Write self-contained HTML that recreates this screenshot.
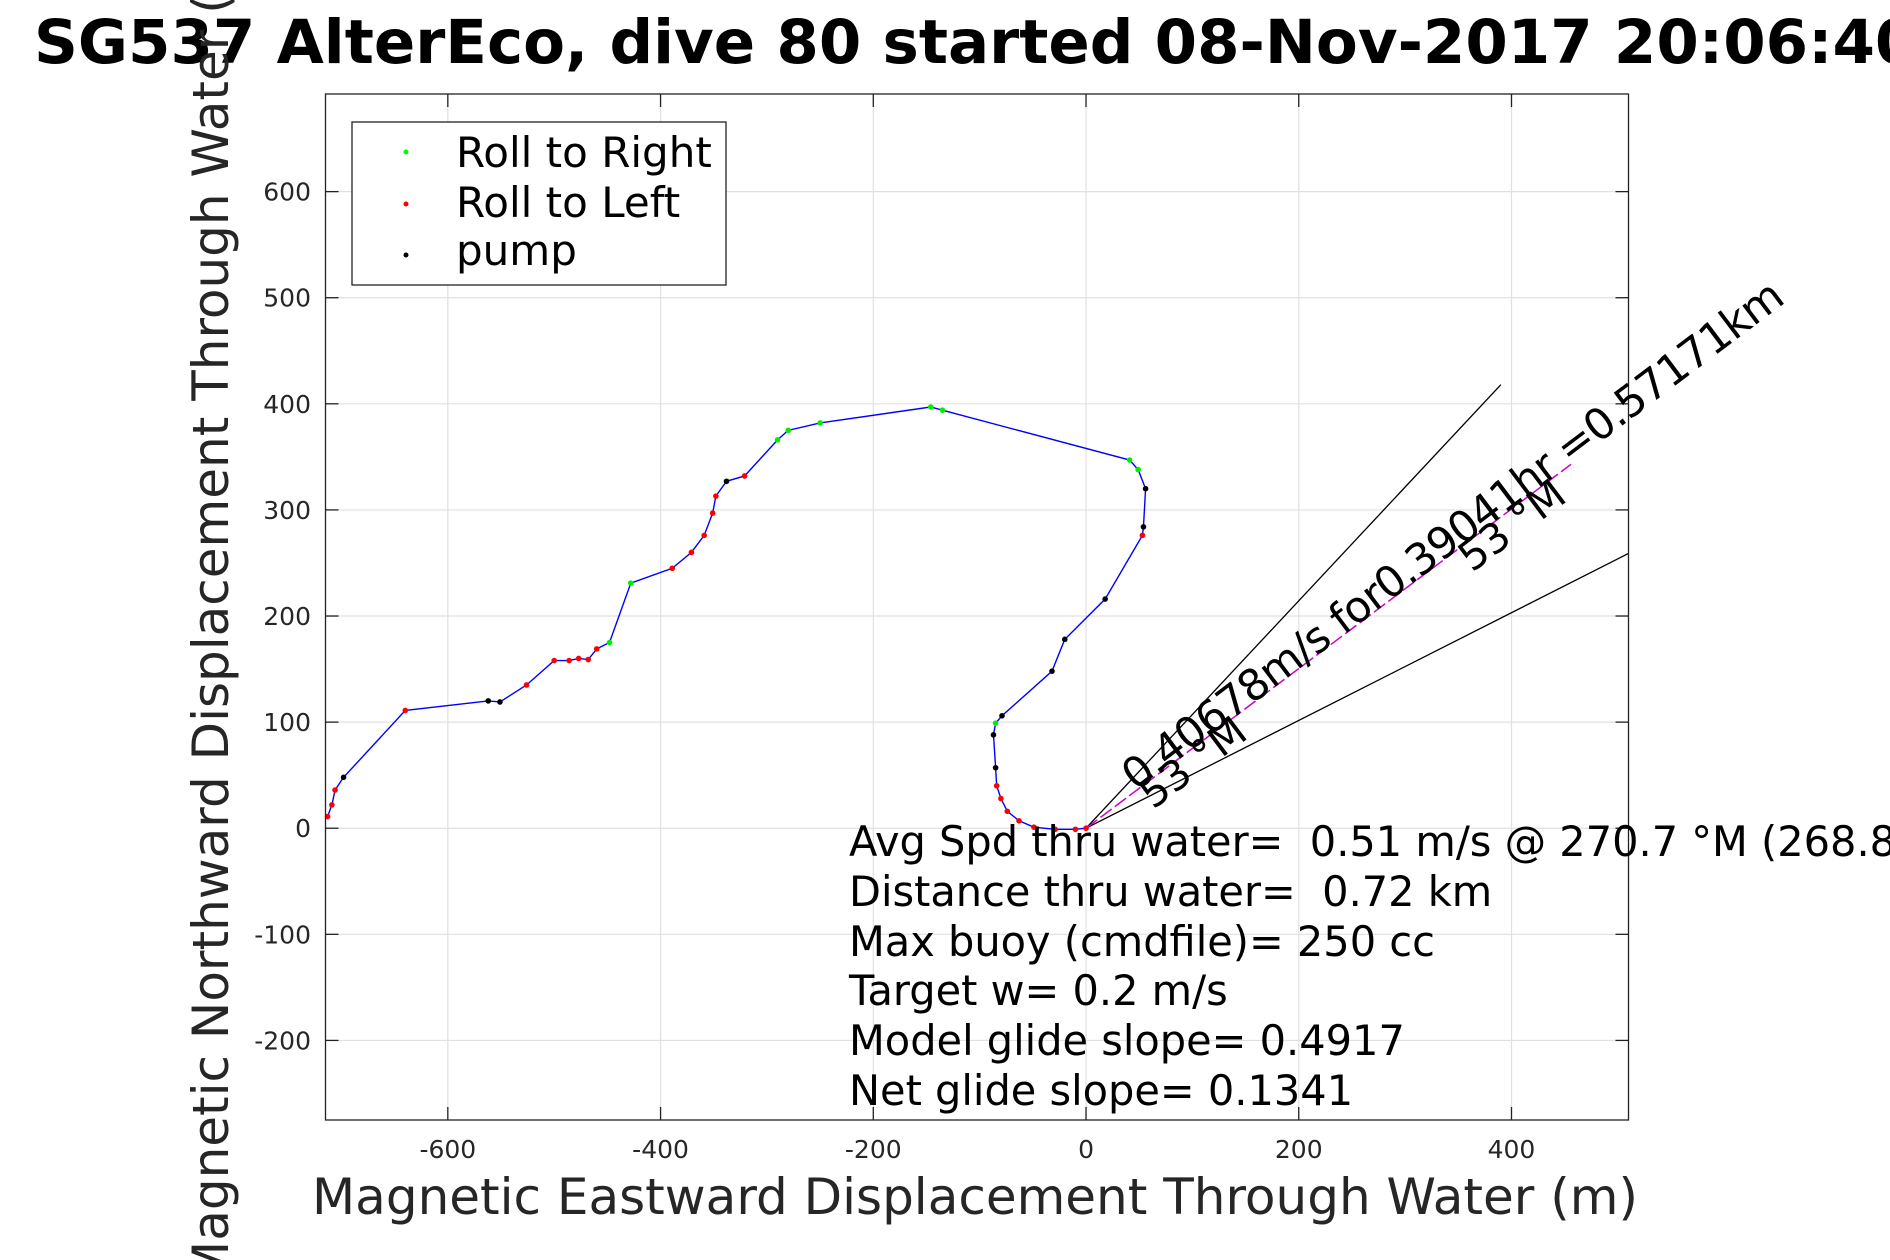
<!DOCTYPE html>
<html><head><meta charset="utf-8"><style>
body{margin:0;background:#fff}
svg{display:block;font-family:"DejaVu Sans","Liberation Sans",sans-serif}
text{white-space:pre}
</style></head><body>
<svg id="chart" width="1890" height="1260" viewBox="0 0 1890 1260">
<text x="34" y="63" font-size="61" font-weight="bold">SG537 AlterEco, dive 80 started 08-Nov-2017 20:06:40</text>
<g id="grid"></g>
<g id="axes"></g>
<g id="marks"></g>
<rect x="325.5" y="94" width="1303" height="1026" fill="none" stroke="#222" stroke-width="1.3"/>
<text x="975" y="1214" font-size="50" fill="#262626" text-anchor="middle">Magnetic Eastward Displacement Through Water (m)</text>
<text transform="translate(228,605) rotate(-90)" font-size="50" fill="#262626" text-anchor="middle">Magnetic Northward Displacement Through Water (m)</text>
<g>
<rect x="352" y="122" width="374" height="163" fill="#fff" stroke="#222" stroke-width="1.3"/>
<circle cx="406" cy="152" r="2.5" fill="#00ff00"/>
<text x="456" y="167" font-size="42">Roll to Right</text>
<circle cx="406" cy="204" r="2.5" fill="#ff0000"/>
<text x="456" y="217" font-size="42">Roll to Left</text>
<circle cx="406" cy="255" r="2.5" fill="#000"/>
<text x="456" y="265" font-size="42">pump</text>
</g>
<g font-size="41.5">
<text x="849" y="856">Avg Spd thru water=  0.51 m/s @ 270.7 °M (268.8 °T)</text>
<text x="849" y="906">Distance thru water=  0.72 km</text>
<text x="849" y="956">Max buoy (cmdfile)= 250 cc</text>
<text x="849" y="1005">Target w= 0.2 m/s</text>
<text x="849" y="1055">Model glide slope= 0.4917</text>
<text x="849" y="1105">Net glide slope= 0.1341</text>
</g>
<text transform="translate(1136,792) rotate(-37)" font-size="43" textLength="815">0.40678m/s for0.39041hr =0.57171km</text>
<text transform="translate(1153,810) rotate(-37)" font-size="41">53 °M</text>
<text transform="translate(1472,573) rotate(-37)" font-size="41">53 °M</text>
</svg>
<script>
const xTicks=[-600,-400,-200,0,200,400];
const yTicks=[-200,-100,0,100,200,300,400,500,600];
const trackX=[-713,-709,-706,-698,-640,-562,-551,-526,-500,-486,-477,-468,-460,-448,-428,-389,-371,-359,-351,-348,-338,-321,-290,-280,-250,-146,-135,41,49,56,54,53,18,-20,-32,-79,-85,-87,-85,-84,-80,-74,-63,-49,-29,-10,0];
const trackY=[11,22,36,48,111,120,119,135,158,158,160,159,169,175,231,245,260,276,297,313,327,332,366,375,382,397,394,347,338,320,284,276,216,178,148,106,99,88,57,40,28,16,7,1,-1,-1,0];
const trackRoll=['L','L','L','P','L','P','P','L','L','L','L','L','L','R','R','L','L','L','L','L','P','L','R','R','R','R','R','R','R','P','P','L','P','P','P','P','R','P','P','L','L','L','L','L','L','L','L'];
const currentEnd=[456,343];
const wedgeUpper=[390,418];
const wedgeLower=[510,259];
const NS='http://www.w3.org/2000/svg';
const L=325.5,R=1628.5,T=94,B=1120,xmin=-715,xmax=510,ymin=-275,ymax=692;
const sx=v=>L+(v-xmin)/(xmax-xmin)*(R-L);
const sy=v=>B-(v-ymin)/(ymax-ymin)*(B-T);
function mk(tag,parent,attrs){const e=document.createElementNS(NS,tag);for(const k in attrs)e.setAttribute(k,attrs[k]);parent.appendChild(e);return e;}
const grid=document.getElementById('grid'),axes=document.getElementById('axes'),marks=document.getElementById('marks');
xTicks.forEach(t=>{const x=sx(t);
 let g=mk('line',grid,{x1:x,x2:x,y1:T,y2:B,stroke:'#e0e0e0','stroke-width':1.2});
 
 let a=mk('line',axes,{x1:x,x2:x,y1:B,y2:B-13,stroke:'#222','stroke-width':1.3});
 
 let a2=mk('line',axes,{x1:x,x2:x,y1:T,y2:T+13,stroke:'#222','stroke-width':1.3});
 
 let tx=mk('text',axes,{x:x,y:1158,'font-size':25,fill:'#262626','text-anchor':'middle'});tx.textContent=t;
 });
yTicks.forEach(t=>{const y=sy(t);
 let g=mk('line',grid,{x1:L,x2:R,y1:y,y2:y,stroke:'#e0e0e0','stroke-width':1.2});
 
 let a=mk('line',axes,{x1:L,x2:L+13,y1:y,y2:y,stroke:'#222','stroke-width':1.3});
 
 let a2=mk('line',axes,{x1:R,x2:R-13,y1:y,y2:y,stroke:'#222','stroke-width':1.3});
 
 let tx=mk('text',axes,{x:311,y:y+9,'font-size':25,fill:'#262626','text-anchor':'end'});tx.textContent=t;
 });
let w1=mk('line',marks,{x1:sx(0),y1:sy(0),x2:sx(wedgeUpper[0]),y2:sy(wedgeUpper[1]),stroke:'#000','stroke-width':1.3});

let w2=mk('line',marks,{x1:sx(0),y1:sy(0),x2:sx(wedgeLower[0]),y2:sy(wedgeLower[1]),stroke:'#000','stroke-width':1.3});

let cl=mk('line',marks,{x1:sx(0),y1:sy(0),x2:sx(currentEnd[0]),y2:sy(currentEnd[1]),stroke:'#cc00cc','stroke-width':1.5,'stroke-dasharray':'14 4'});

const pts=trackX.map((x,i)=>sx(x)+','+sy(trackY[i])).join(' ');
let pl=mk('polyline',marks,{points:pts,fill:'none',stroke:'#0000ff','stroke-width':1.4});

const col={R:'#00ee00',L:'#ff0000',P:'#000000'};
trackX.forEach((x,i)=>{let c=mk('circle',marks,{cx:sx(x),cy:sy(trackY[i]),r:2.8,fill:col[trackRoll[i]]});
 });
</script>
</body></html>
